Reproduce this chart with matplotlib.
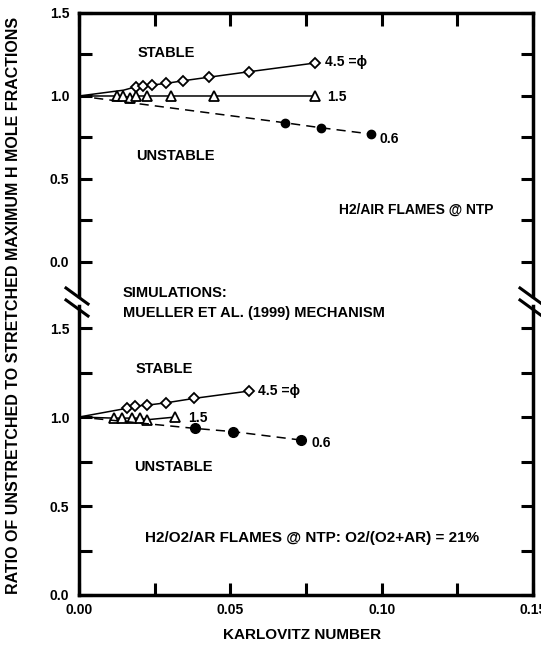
import matplotlib
matplotlib.use("Agg")
import matplotlib.pyplot as plt
from matplotlib.lines import Line2D
from matplotlib.ticker import MultipleLocator, FormatStrFormatter

plt.rcParams['font.family'] = ['Liberation Sans', 'DejaVu Sans']
plt.rcParams['font.weight'] = 'bold'

# H2/air flames (upper panel)
k_air_45 = [0.0, 0.0147, 0.0189, 0.0213, 0.0241, 0.0288, 0.0345, 0.0428, 0.0561, 0.0781]
r_air_45 = [1.0, 1.035, 1.056, 1.060, 1.066, 1.076, 1.092, 1.113, 1.146, 1.199]
k_air_15 = [0.0, 0.0127, 0.0147, 0.0167, 0.0189, 0.0226, 0.0304, 0.0447, 0.0781]
r_air_15 = [1.0, 1.0, 1.0, 0.99, 1.0, 1.0, 1.0, 1.0, 1.0]
k_air_06 = [0.0, 0.0679, 0.0798, 0.0964]
r_air_06 = [1.0, 0.839, 0.809, 0.771]

# H2/O2/Ar flames (lower panel)
k_ar_45 = [0.0, 0.0158, 0.0185, 0.0226, 0.0288, 0.0381, 0.0561]
r_ar_45 = [1.0, 1.049, 1.062, 1.067, 1.080, 1.105, 1.146]
k_ar_15 = [0.0, 0.0114, 0.0141, 0.0174, 0.0202, 0.0226, 0.0318]
r_ar_15 = [1.0, 0.994, 0.994, 0.994, 0.994, 0.985, 1.0]
k_ar_06 = [0.0, 0.0384, 0.0509, 0.0732]
r_ar_06 = [1.0, 0.936, 0.918, 0.871]

W, H = 541, 658
fig = plt.figure(figsize=(W / 100, H / 100), dpi=100)

def px_axes(x0, y0, x1, y1):
    return fig.add_axes([x0 / W, 1 - y1 / H, (x1 - x0) / W, (y1 - y0) / H])

ax1 = px_axes(79, 13, 533, 296)
ax2 = px_axes(79, 306, 533, 595)

lw_spine = 2.5
for ax in (ax1, ax2):
    ax.set_xlim(0, 0.15)
    ax.xaxis.set_major_locator(MultipleLocator(0.05))
    ax.xaxis.set_minor_locator(MultipleLocator(0.025))
    ax.yaxis.set_major_locator(MultipleLocator(0.5))
    ax.yaxis.set_minor_locator(MultipleLocator(0.25))
    ax.yaxis.set_major_formatter(FormatStrFormatter('%.1f'))
    ax.xaxis.set_major_formatter(FormatStrFormatter('%.2f'))
    for s in ax.spines.values():
        s.set_linewidth(lw_spine)
    ax.tick_params(which='both', direction='in', length=9, width=2.2,
                   left=True, right=True, labelsize=10)
    ax.tick_params(axis='y', pad=7)

ax1.set_ylim(-0.205, 1.5)
ax1.spines['bottom'].set_visible(False)
ax1.tick_params(which='both', bottom=False, labelbottom=False, top=True)

ax2.set_ylim(0, 1.624)
ax2.spines['top'].set_visible(False)
ax2.tick_params(which='both', top=False, bottom=True)
ax2.tick_params(axis='x', pad=6)

def draw_panel(ax, k45, r45, k15, r15, k06, r06, first45, ms_c):
    ax.plot(k45, r45, color='black', lw=1.1)
    ax.plot(k45[first45:], r45[first45:], ls='none', marker='D', ms=5.5,
            mfc='white', mec='black', mew=1.3)
    ax.plot(k15, r15, color='black', lw=1.1)
    ax.plot(k15[1:], r15[1:], ls='none', marker='^', ms=7.5,
            mfc='white', mec='black', mew=1.3)
    ax.plot(k06, r06, color='black', lw=1.1, ls=(0, (6, 4)))
    ax.plot(k06[1:], r06[1:], ls='none', marker='o', ms=ms_c,
            mfc='black', mec='black')

draw_panel(ax1, k_air_45, r_air_45, k_air_15, r_air_15, k_air_06, r_air_06, 2, 6)
draw_panel(ax2, k_ar_45, r_ar_45, k_ar_15, r_ar_15, k_ar_06, r_ar_06, 1, 7)

def ftext(x, y, s, ha='left', fs=10):
    fig.text(x / W, 1 - y / H, s, ha=ha, va='center', fontsize=fs,
             fontweight='bold')

# upper panel annotations
ftext(325, 62, '4.5 =ϕ')
ftext(327, 97, '1.5')
ftext(380, 139, '0.6')
ftext(166, 53, 'STABLE', ha='center', fs=10.5)
ftext(175, 156, 'UNSTABLE', ha='center', fs=10.5)
ftext(416, 210, 'H2/AIR FLAMES @ NTP', ha='center', fs=10)

# between the panels
ftext(123, 293, 'SIMULATIONS:', fs=10.5)
ftext(123, 313, 'MUELLER ET AL. (1999) MECHANISM', fs=10.5)

# lower panel annotations
ftext(258, 391, '4.5 =ϕ')
ftext(188, 418, '1.5')
ftext(312, 443, '0.6')
ftext(164, 369, 'STABLE', ha='center', fs=10.5)
ftext(173, 467, 'UNSTABLE', ha='center', fs=10.5)
ftext(312, 538, 'H2/O2/AR FLAMES @ NTP: O2/(O2+AR) = 21%', ha='center', fs=11)

ftext(302, 635, 'KARLOVITZ NUMBER', ha='center', fs=11)
fig.text(14 / W, 1 - 305 / H, 'RATIO OF UNSTRETCHED TO STRETCHED MAXIMUM H MOLE FRACTIONS',
         rotation=90, ha='center', va='center', fontsize=11.5, fontweight='bold')

# axis break marks
for xc in (77, 531):
    for yc in (296, 308):
        fig.add_artist(Line2D([(xc - 11) / W, (xc + 11) / W],
                              [1 - (yc - 8) / H, 1 - (yc + 8) / H],
                              color='black', lw=2.2))

fig.savefig('out.png', dpi=100)
